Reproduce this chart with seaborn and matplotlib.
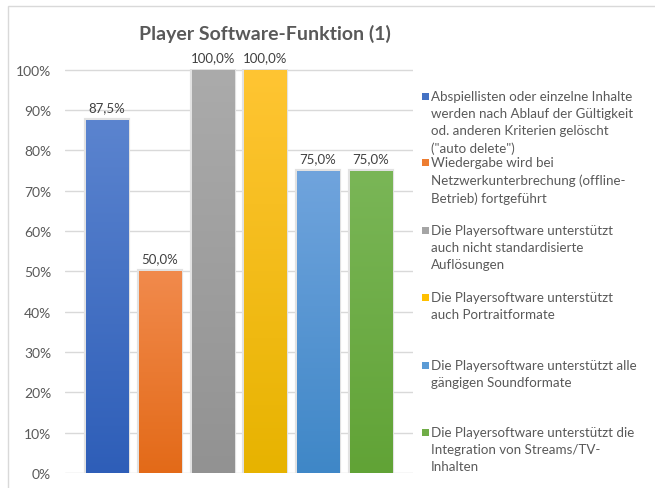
import matplotlib
matplotlib.use("Agg")
import matplotlib.pyplot as plt
import matplotlib.patheffects as pe
from matplotlib.patches import Rectangle
from matplotlib.colors import LinearSegmentedColormap
import seaborn as sns
import numpy as np
import pandas as pd

# ---- data ----
title = "Player Software-Funktion (1)"
categories = [
    "Abspiellisten oder einzelne Inhalte\nwerden nach Ablauf der Gültigkeit\nod. anderen Kriterien gelöscht\n(\"auto delete\")",
    "Wiedergabe wird bei\nNetzwerkunterbrechung (offline-\nBetrieb) fortgeführt",
    "Die Playersoftware unterstützt\nauch nicht standardisierte\nAuflösungen",
    "Die Playersoftware unterstützt\nauch Portraitformate",
    "Die Playersoftware unterstützt alle\ngängigen Soundformate",
    "Die Playersoftware unterstützt die\nIntegration von Streams/TV-\nInhalten",
]
values = [87.5, 50.0, 100.0, 100.0, 75.0, 75.0]
value_labels = ["87,5%", "50,0%", "100,0%", "100,0%", "75,0%", "75,0%"]
yticks = [0, 10, 20, 30, 40, 50, 60, 70, 80, 90, 100]
ytick_labels = ["0%", "10%", "20%", "30%", "40%", "50%", "60%", "70%", "80%", "90%", "100%"]
top_colors = ["#5b84cf", "#f18a4c", "#ababab", "#ffc533", "#70a4dd", "#7ab657"]
bottom_colors = ["#2e5eb8", "#e36a18", "#929292", "#e7b300", "#3f87c7", "#61a336"]
legend_colors = ["#4472c4", "#ed7d31", "#a5a5a5", "#ffc000", "#5b9bd5", "#70ad47"]

# ---- style ----
sns.set_theme(style="white")
plt.rcParams['font.family'] = ['Lato', 'DejaVu Sans']
TXT = "#595959"

W, H = 655, 489
fig = plt.figure(figsize=(W / 100, H / 100), dpi=100)
fig.patch.set_facecolor("white")

ax = fig.add_axes([65 / W, 15 / H, 348 / W, 404 / H])
df = pd.DataFrame({"cat": categories, "val": values})
sns.barplot(data=df, x="cat", y="val", hue="cat", palette=bottom_colors,
            legend=False, width=0.8, saturation=1, ax=ax, zorder=3)

for patch, ctop, cbot in zip(ax.patches, top_colors, bottom_colors):
    x0, w, h = patch.get_x(), patch.get_width(), patch.get_height()
    patch.set_linewidth(0)
    patch.set_path_effects([pe.Stroke(linewidth=3.0, foreground="#e2e2e2"), pe.Normal()])
    cmap = LinearSegmentedColormap.from_list("g", [cbot, ctop])
    grad = np.linspace(0, 1, 256).reshape(-1, 1)
    im = ax.imshow(grad, extent=[x0, x0 + w, 0, h], origin="lower", cmap=cmap,
                   aspect="auto", zorder=4, interpolation="bilinear")
    im.set_clip_path(patch)

for i, (v, lab) in enumerate(zip(values, value_labels)):
    ax.annotate(lab, (i, v), xytext=(0, 5), textcoords="offset points",
                ha="center", va="bottom", fontsize=9.5, color="#404040", zorder=6)

ax.set_xlim(-0.8, 5.8)
ax.set_ylim(0, 100.2)
ax.set_yticks(yticks)
ax.set_yticklabels(ytick_labels)
ax.set_xticks([])
ax.set_xlabel("")
ax.set_ylabel("")
ax.tick_params(axis="y", length=0, pad=10, labelcolor=TXT, labelsize=10)
ax.yaxis.grid(True, color="#d9d9d9", linewidth=1, zorder=0)
ax.set_axisbelow(True)
for s in ax.spines.values():
    s.set_visible(False)
ax.patch.set_alpha(0)

# title
fig.text(265 / W, 1 - 34 / H, title, ha="center", va="center",
         fontsize=14, fontweight="bold", color=TXT)

# outer frame
fig.add_artist(Rectangle((8 / W, -0.1), 1.0, 1 - 7 / H + 0.1, transform=fig.transFigure,
                         fill=False, edgecolor="#d9d9d9", linewidth=1))

# legend (manual, Excel-style even spacing)
entry_y = [97, 163, 231, 298, 366, 433]
for lab, col, yy in zip(categories, legend_colors, entry_y):
    fig.add_artist(Rectangle((422 / W, 1 - (yy + 3.5) / H), 7 / W, 7 / H,
                             transform=fig.transFigure, facecolor=col, edgecolor="none"))
    fig.text(431 / W, 1 - (yy - 6) / H, lab, ha="left", va="top",
             fontsize=9.6, color=TXT, linespacing=1.52)

fig.savefig("out.png", dpi=100)
